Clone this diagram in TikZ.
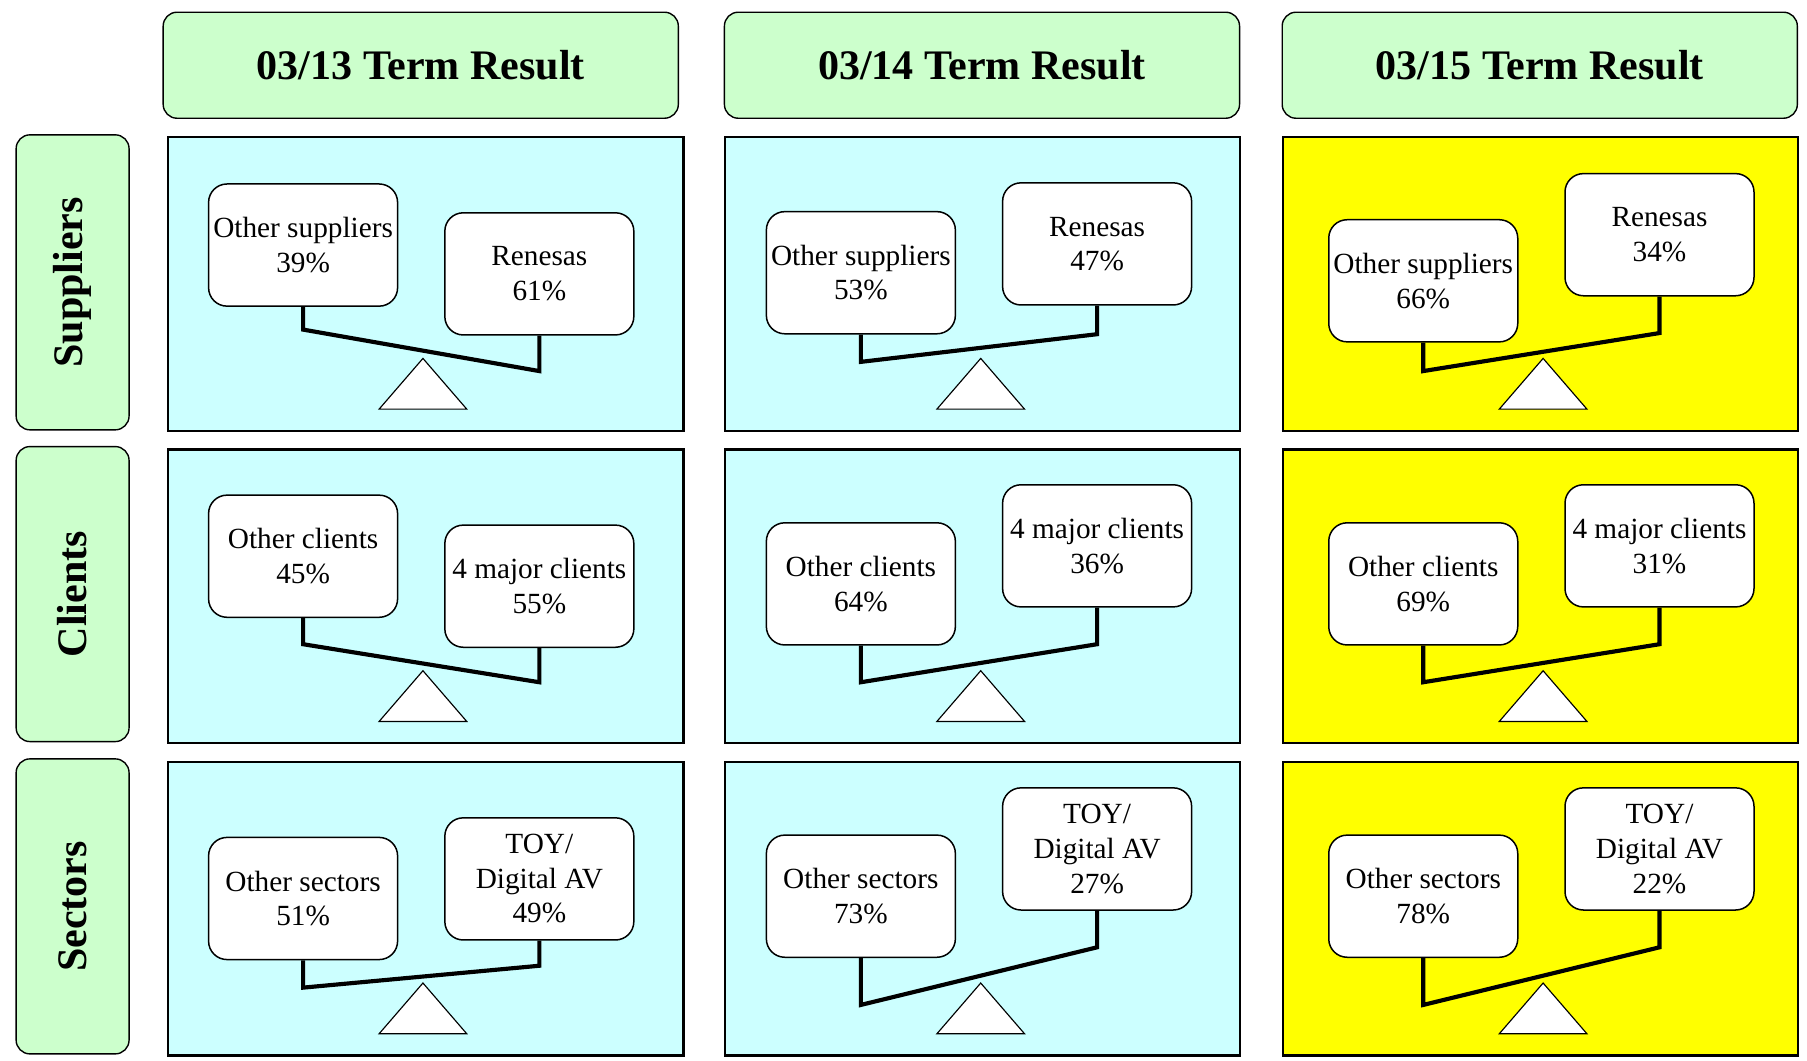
\documentclass[tikz,border=0pt]{standalone}
\usepackage{fontspec}
\setmainfont{Liberation Serif}
\definecolor{hdr}{HTML}{CCFFCC}
\definecolor{cyanbg}{HTML}{CCFFFF}
\definecolor{yel}{HTML}{FFFF00}
\tikzset{
 hdrbox/.style={draw, fill=hdr, rounded corners=12pt, line width=1.2pt, inner sep=0pt, font=\fontsize{36.5}{40}\selectfont\bfseries},
 panelbox/.style={draw, line width=2pt, inner sep=0pt},
 itembox/.style={draw, fill=white, rounded corners=16pt, line width=1.3pt, minimum width=164pt, minimum height=106pt, inner sep=0pt, align=center, font=\fontsize{25.4}{30}\selectfont},
 beam/.style={line width=3.6pt, line join=miter},
 pivot/.style={draw, fill=white, line width=1pt, line join=miter}
}
\def\ix{0}
% #1 x0, #2 y0, #3 fill, #4 left text, #5 left top, #6 right text, #7 right top, #8 left beam y, #9 right beam y
\newcommand{\balpanel}[9]{%
 \begin{scope}[shift={(#1,#2)}]
  \node[panelbox, fill=#3, minimum width=447pt, minimum height=255pt, anchor=north west] (P-#1-#2) at (0,0) {};
  \begin{scope}[xshift=\ix pt]
  \node[itembox, anchor=north] (L-#1-#2) at (118,#5) {#4};
  \node[itembox, anchor=north] (R-#1-#2) at (323,#7) {#6};
  \draw[pivot] (222,193) -- (260,237) -- (184,237) -- cycle;
  \coordinate (lb-#1-#2) at (118,#8);
  \coordinate (rb-#1-#2) at (323,#9);
  \draw[beam] (L-#1-#2.south) -- (lb-#1-#2) -- (rb-#1-#2) -- (R-#1-#2.south);
  \end{scope}
 \end{scope}}
\begin{document}
\begin{tikzpicture}[x=1pt,y=-1pt]
\useasboundingbox (0,0) rectangle (1568,920);
% headers
\node[hdrbox, minimum width=447pt, minimum height=92pt, anchor=north west] (H1) at (141,10) {03/13 Term Result};
\node[hdrbox, minimum width=447pt, minimum height=92pt, anchor=north west] (H2) at (628,10) {03/14 Term Result};
\node[hdrbox, minimum width=447pt, minimum height=92pt, anchor=north west] (H3) at (1112,10) {03/15 Term Result};
% row labels
\node[hdrbox, rotate=90, minimum width=256pt, minimum height=98pt] (S1) at (63,245) {Suppliers};
\node[hdrbox, rotate=90, minimum width=256pt, minimum height=98pt] (S2) at (63,515.5) {Clients};
\node[hdrbox, rotate=90, minimum width=256pt, minimum height=98pt] (S3) at (63,786.5) {Sectors};
% column 1
\def\ix{0}
\balpanel{145}{118}{cyanbg}{Other suppliers\\39\%}{41}{Renesas\\61\%}{66}{168}{204}
\balpanel{145}{389}{cyanbg}{Other clients\\45\%}{40}{4 major clients\\55\%}{66}{170}{203}
\balpanel{145}{660}{cyanbg}{Other sectors\\51\%}{66}{TOY/\\Digital AV\\49\%}{49}{197}{178}
% column 2
\def\ix{1}
\balpanel{628}{118}{cyanbg}{Other suppliers\\53\%}{65}{Renesas\\47\%}{40}{196}{172}
\balpanel{628}{389}{cyanbg}{Other clients\\64\%}{64}{4 major clients\\36\%}{31}{203}{170}
\balpanel{628}{660}{cyanbg}{Other sectors\\73\%}{64}{TOY/\\Digital AV\\27\%}{23}{212}{162}
% column 3
\def\ix{5}
\balpanel{1112}{118}{yel}{Other suppliers\\66\%}{72}{Renesas\\34\%}{32}{204}{171}
\balpanel{1112}{389}{yel}{Other clients\\69\%}{64}{4 major clients\\31\%}{31}{203}{170}
\balpanel{1112}{660}{yel}{Other sectors\\78\%}{64}{TOY/\\Digital AV\\22\%}{23}{212}{162}
\end{tikzpicture}
\end{document}
